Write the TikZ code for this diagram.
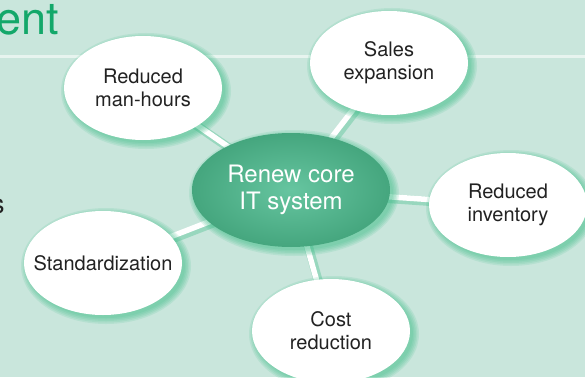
\documentclass[tikz,border=0pt]{standalone}
\usepackage{fontspec}
\setmainfont{TeX Gyre Heros}
\usetikzlibrary{shapes.geometric}
\definecolor{bg}{HTML}{C9E6DC}
\definecolor{titlegreen}{HTML}{13A86A}
\definecolor{shadowgreen}{HTML}{3DBD88}
\definecolor{cdark}{HTML}{45A67E}
\definecolor{clight}{HTML}{66C5A0}
\definecolor{txt}{HTML}{222222}
\tikzset{
  bubble/.style={ellipse, fill=white, text=txt, align=center, inner sep=0pt,
    minimum width=158pt, minimum height=104pt,
    font=\fontsize{20}{23}\selectfont},
  hub/.style={ellipse, inner color=clight, outer color=cdark, text=white, align=center,
    inner sep=0pt, minimum width=198pt, minimum height=114pt,
    font=\fontsize{24}{27}\selectfont},
  glow/.style={fill=shadowgreen, opacity=0.14},
  linkshadow/.style={line width=9pt, shadowgreen, opacity=0.35},
  link/.style={line width=5.5pt, white},
}
\begin{document}
\begin{tikzpicture}[x=1pt,y=-1pt]
\fill[bg] (0,0) rectangle (585,377);
\useasboundingbox (0,0) rectangle (585,377);
\draw[white!55!bg, line width=3pt] (0,57) -- (585,57);
\node[anchor=base west, text=titlegreen, font=\fontsize{45}{45}\selectfont, inner sep=0pt] (title) at (-4,35) {ent};
\node[anchor=base west, text=txt, font=\fontsize{27}{27}\selectfont, inner sep=0pt] (frag) at (-9,213) {s};
\coordinate (pc) at (291,190);
\coordinate (pm) at (143,88);
\coordinate (ps) at (389,63);
\coordinate (pi) at (508,205);
\coordinate (pd) at (103,263);
\coordinate (pr) at (331,331);
\foreach \p in {pm,ps,pi,pd,pr}{
  \draw[linkshadow] ([shift={(2,2)}]pc) -- ([shift={(2,2)}]\p);
  \draw[link] (pc) -- (\p);
}
% soft green glows behind the ellipses
\foreach \p in {pm,ps,pi,pd,pr}{
  \foreach \k in {0,1.5,3,4.5,6}{
    \fill[glow] ([shift={(3,3)}]\p) ellipse [x radius=79+\k, y radius=52+\k];
  }
}
\foreach \k in {0,1.5,3,4.5,6}{
  \fill[glow] ([shift={(3,3)}]pc) ellipse [x radius=99+\k, y radius=57+\k];
}
\node[bubble] (man) at (pm) {Reduced\\man-hours};
\node[bubble] (sales) at (ps) {Sales\\expansion};
\node[bubble] (inv) at (pi) {Reduced\\inventory};
\node[bubble] (std) at (pd) {\makebox[0pt]{Standardization}};
\node[bubble] (cost) at (pr) {Cost\\reduction};
\node[hub] (core) at (pc) {Renew core\\IT system};
\end{tikzpicture}
\end{document}
